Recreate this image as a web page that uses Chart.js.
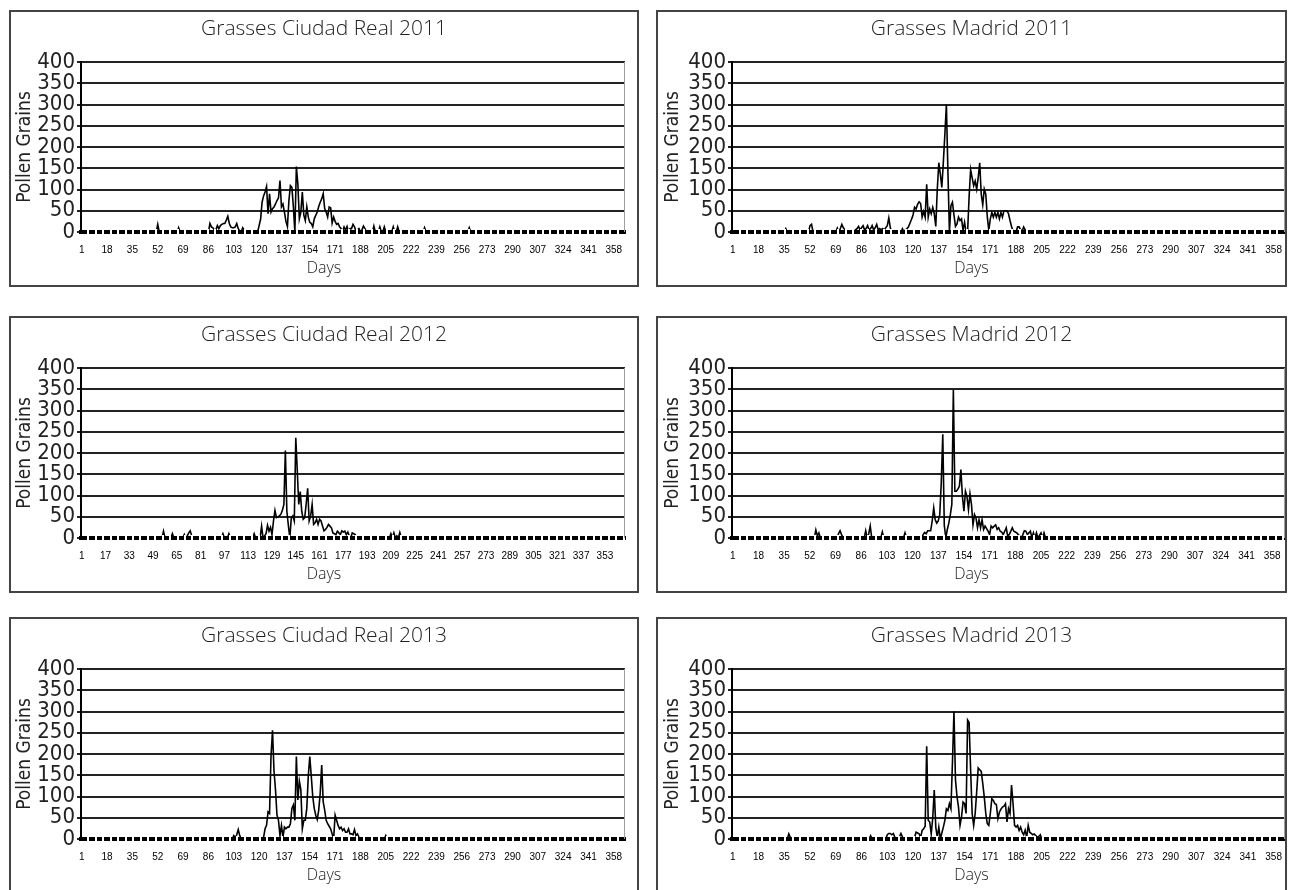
<!DOCTYPE html>
<html>
<head>
<meta charset="utf-8">
<title>Grasses pollen, Ciudad Real and Madrid 2011-2013</title>
<script src="https://cdn.jsdelivr.net/npm/chart.js@4.4.1/dist/chart.umd.min.js"></script>
<style>
  html, body { margin: 0; padding: 0; background: #fff; overflow: hidden; }
  .panel { position: absolute; height: 277px; border: 2px solid #444; box-sizing: border-box; background: #fff; }
  .panel canvas { display: block; }
</style>
</head>
<body>
<div class="panel" style="left:9px;top:10px;width:630px"><canvas id="cr2011" width="626" height="273"></canvas></div>
<div class="panel" style="left:656px;top:10px;width:631px"><canvas id="md2011" width="627" height="273"></canvas></div>
<div class="panel" style="left:9px;top:316px;width:630px"><canvas id="cr2012" width="626" height="273"></canvas></div>
<div class="panel" style="left:656px;top:316px;width:631px"><canvas id="md2012" width="627" height="273"></canvas></div>
<div class="panel" style="left:9px;top:617px;width:630px"><canvas id="cr2013" width="626" height="273"></canvas></div>
<div class="panel" style="left:656px;top:617px;width:631px"><canvas id="md2013" width="627" height="273"></canvas></div>
<script>
// y axis
const yMax = 400;
const yStep = 50;

// daily counts, stored as [first day, values...] runs; every other day is 0
const cr2011 = [
    [52, [18]],
    [66, [10]],
    [87, [20, 12, 10, 5, 5, 15, 8, 15, 18, 20, 20, 28, 37, 20, 12, 10, 10, 12, 20, 8, 2, 0, 10, 5]],
    [119, [0, 15, 30, 70, 85, 94, 107, 43, 90, 47, 55, 59, 66, 74, 80, 121, 59, 66, 47, 25, 13, 74, 109, 105, 59, 0,
           154, 113, 31, 47, 94, 40, 27, 59, 35, 23, 20, 12, 31, 39, 47, 60, 70, 78, 90, 55, 47, 35, 59, 57, 21, 35,
           25, 18, 20, 12, 8, 2, 12, 4, 13, 0, 8, 8, 18, 12, 2, 5, 8, 0, 5, 14, 8, 0]],
    [197, [14]], [201, [12]], [204, [12]], [210, [12]], [213, [12]], [231, [10]], [261, [10]]
];

const md2011 = [
    [36, [8]],
    [52, [15, 18]],
    [70, [9, 0, 8, 18, 10, 5]],
    [82, [5, 8, 13, 5, 10, 15, 5, 8, 15, 5, 8, 15, 5, 10, 18, 5, 8, 5, 8, 5, 10, 15, 33, 10]],
    [113, [8, 0, 5, 8, 12, 21, 30, 40, 58, 54, 65, 71, 67, 35, 48, 35, 112, 35, 54, 43, 58, 43, 13, 101, 163, 136,
           105, 165, 230, 300, 145, 0, 62, 70, 40, 13, 19, 35, 27, 31, 4, 23, 0, 0, 83, 147, 128, 109, 120, 101, 128,
           163, 89, 64, 101, 89, 36, 4, 31, 46, 35, 46, 35, 46, 31, 46, 35, 50, 50, 50, 43, 27, 13, 2, 0, 0, 12, 12,
           5, 2, 12, 5, 2, 0]]
];

const cr2012 = [
    [56, [16]],
    [62, [10]],
    [70, [8, 0, 5, 12, 17, 5]],
    [96, [10]], [100, [10]], [117, [10]],
    [122, [28, 0, 5, 10, 30, 16, 25, 8, 40, 65, 48, 50, 52, 56, 65, 79, 206, 63, 30, 0, 48, 52, 40, 236, 159, 79,
           109, 63, 44, 48, 80, 117, 40, 52, 79, 32, 36, 44, 32, 44, 40, 28, 17, 20, 25, 32, 28, 24, 12, 10, 8, 16,
           12, 8, 17, 14, 16, 8, 14, 5, 0, 12, 10, 8, 0]],
    [209, [10, 0, 12, 0, 5, 0, 13, 0]]
];

const md2012 = [
    [56, [19, 5, 12]],
    [71, [10, 17, 8]],
    [89, [17, 0, 10, 28]],
    [100, [14]], [115, [12]],
    [127, [8, 13, 10, 17, 17, 17, 40, 71, 43, 35, 40, 55, 130, 244, 30, 0, 20, 35, 55, 79, 348, 110, 110, 115, 122,
           161, 98, 63, 110, 98, 67, 104, 79, 31, 55, 47, 24, 43, 24, 43, 20, 28, 22, 16, 8, 28, 24, 28, 31, 20, 24,
           16, 14, 8, 16, 24, 4, 8, 16, 24, 16, 14, 12, 8, 4, 0, 8, 17, 16, 8, 12, 16, 0, 12, 0, 12, 0, 6, 12, 0, 12, 0]]
];

const cr2013 = [
    [103, [8, 3, 10, 22, 8, 0]],
    [122, [0, 4, 24, 32, 64, 60, 196, 256, 160, 116, 56, 44, 8, 32, 4, 28, 24, 28, 28, 36, 72, 80, 44, 194, 92, 136,
           116, 24, 44, 44, 72, 148, 194, 148, 100, 72, 56, 46, 68, 108, 174, 88, 68, 44, 36, 30, 24, 12, 0, 56, 44,
           32, 24, 28, 20, 24, 16, 16, 24, 12, 12, 10, 22, 8, 12, 4, 0]],
    [205, [8]]
];

const md2013 = [
    [38, [12, 4]],
    [92, [8]],
    [103, [10, 13, 13, 10, 13, 4]],
    [111, [5, 13, 5]],
    [121, [4, 16, 14, 12, 4, 20, 24, 30, 218, 44, 40, 12, 50, 115, 28, 4, 28, 0, 14, 28, 44, 71, 67, 83, 71, 180,
           300, 139, 100, 75, 32, 52, 87, 83, 60, 280, 274, 163, 60, 32, 60, 111, 167, 163, 159, 131, 99, 60, 36, 32,
           60, 95, 91, 83, 81, 48, 63, 70, 75, 77, 83, 40, 71, 60, 127, 83, 32, 28, 32, 20, 28, 16, 10, 21, 4, 32,
           16, 13, 10, 12, 8, 4, 6, 10, 0]]
];

const panels = [
    { canvas: 'cr2011', title: 'Grasses Ciudad Real 2011', days: 365, labelStep: 17, runs: cr2011, side: 'left' },
    { canvas: 'md2011', title: 'Grasses Madrid 2011', days: 365, labelStep: 17, runs: md2011, side: 'right' },
    { canvas: 'cr2012', title: 'Grasses Ciudad Real 2012', days: 366, labelStep: 16, runs: cr2012, side: 'left' },
    { canvas: 'md2012', title: 'Grasses Madrid 2012', days: 366, labelStep: 17, runs: md2012, side: 'right' },
    { canvas: 'cr2013', title: 'Grasses Ciudad Real 2013', days: 365, labelStep: 17, runs: cr2013, side: 'left' },
    { canvas: 'md2013', title: 'Grasses Madrid 2013', days: 365, labelStep: 17, runs: md2013, side: 'right' }
];

const narrow = '"DejaVu Sans Condensed", "Liberation Sans Narrow", sans-serif';
const humanist = '"Open Sans", "Noto Sans", sans-serif';

// left column boxes have some room right of the plot, right column ones don't
const sides = {
    left: { padLeft: 12, padRight: 12, axisWidth: 58, titleShift: -7 },
    right: { padLeft: 0, padRight: 0, axisWidth: 74, titleShift: 6 }
};

function dailyValues(days, runs) {
    let values = new Array(days).fill(0);
    runs.forEach(([first, counts]) => {
        counts.forEach((v, i) => { values[first - 1 + i] = v; });
    });
    return values;
}

// the old excel axis: thick black line broken by small white tick gaps
const axisGaps = {
    id: 'axisGaps',
    afterDraw(chart) {
        let x = chart.scales.x;
        let area = chart.chartArea;
        let ctx = chart.ctx;
        let half = (x.getPixelForValue(1) - x.getPixelForValue(0)) / 2;
        ctx.save();
        ctx.fillStyle = '#fff';
        for (let i = 5; i < x.ticks.length; i += 5) {
            ctx.fillRect(Math.round(x.getPixelForValue(i) - half) - 1, area.bottom - 3, 2, 6);
        }
        ctx.strokeStyle = '#a0a0a0';
        ctx.lineWidth = 1;
        ctx.beginPath();
        ctx.moveTo(area.right - 0.5, area.top);
        ctx.lineTo(area.right - 0.5, area.bottom);
        ctx.stroke();
        ctx.restore();
    }
};

panels.forEach(p => {
    let s = sides[p.side];
    let labels = [];
    for (let d = 1; d <= p.days; d++) labels.push(String(d));

    new Chart(document.getElementById(p.canvas), {
        type: 'line',
        data: {
            labels: labels,
            datasets: [{
                data: dailyValues(p.days, p.runs),
                borderColor: '#000',
                borderWidth: 1.6,
                pointRadius: 0,
                tension: 0,
                fill: false
            }]
        },
        options: {
            responsive: false,
            animation: false,
            devicePixelRatio: 1,
            events: [],
            layout: { padding: { left: s.padLeft, right: s.padRight, top: 0, bottom: 0 } },
            plugins: {
                legend: { display: false },
                tooltip: { enabled: false },
                title: {
                    display: true,
                    text: p.title,
                    color: '#222',
                    font: { family: humanist, size: 21, weight: '300', lineHeight: 1.2 },
                    padding: { top: 4, bottom: 20.8 }
                },
                subtitle: {
                    display: true,
                    position: 'bottom',
                    text: 'Days',
                    color: '#222',
                    font: { family: humanist, size: 16, weight: '300', lineHeight: 1.2 },
                    padding: { top: 0, bottom: 7 }
                }
            },
            scales: {
                x: {
                    type: 'category',
                    offset: true,
                    // invisible tick length pushes the labels down without eating width at the ends
                    grid: { display: false, drawTicks: true, tickLength: 12 },
                    border: { color: '#000', width: 4, z: 1 },
                    ticks: {
                        autoSkip: false,
                        maxRotation: 0,
                        minRotation: 0,
                        padding: 0,
                        color: '#000',
                        font: { family: '"Liberation Sans", Arial, sans-serif', size: 10 },
                        callback: function(value, index) {
                            return index % p.labelStep === 0 ? this.getLabelForValue(value) : '';
                        }
                    },
                    afterFit(scale) { scale.height = 26.8; }
                },
                y: {
                    min: 0,
                    max: yMax,
                    ticks: {
                        stepSize: yStep,
                        autoSkip: false,
                        padding: 2,
                        color: '#222',
                        font: { family: narrow, size: 22, lineHeight: 1 }
                    },
                    grid: { color: '#222', lineWidth: 2, tickLength: 4, tickColor: '#222' },
                    border: { color: '#000', width: 2 },
                    title: {
                        display: true,
                        text: 'Pollen Grains',
                        color: '#222',
                        font: { family: narrow, size: 19, lineHeight: 1 },
                        padding: { top: s.titleShift, bottom: 0 }
                    },
                    afterFit(scale) { scale.width = s.axisWidth; }
                }
            }
        },
        plugins: [axisGaps]
    });
});
</script>
</body>
</html>
